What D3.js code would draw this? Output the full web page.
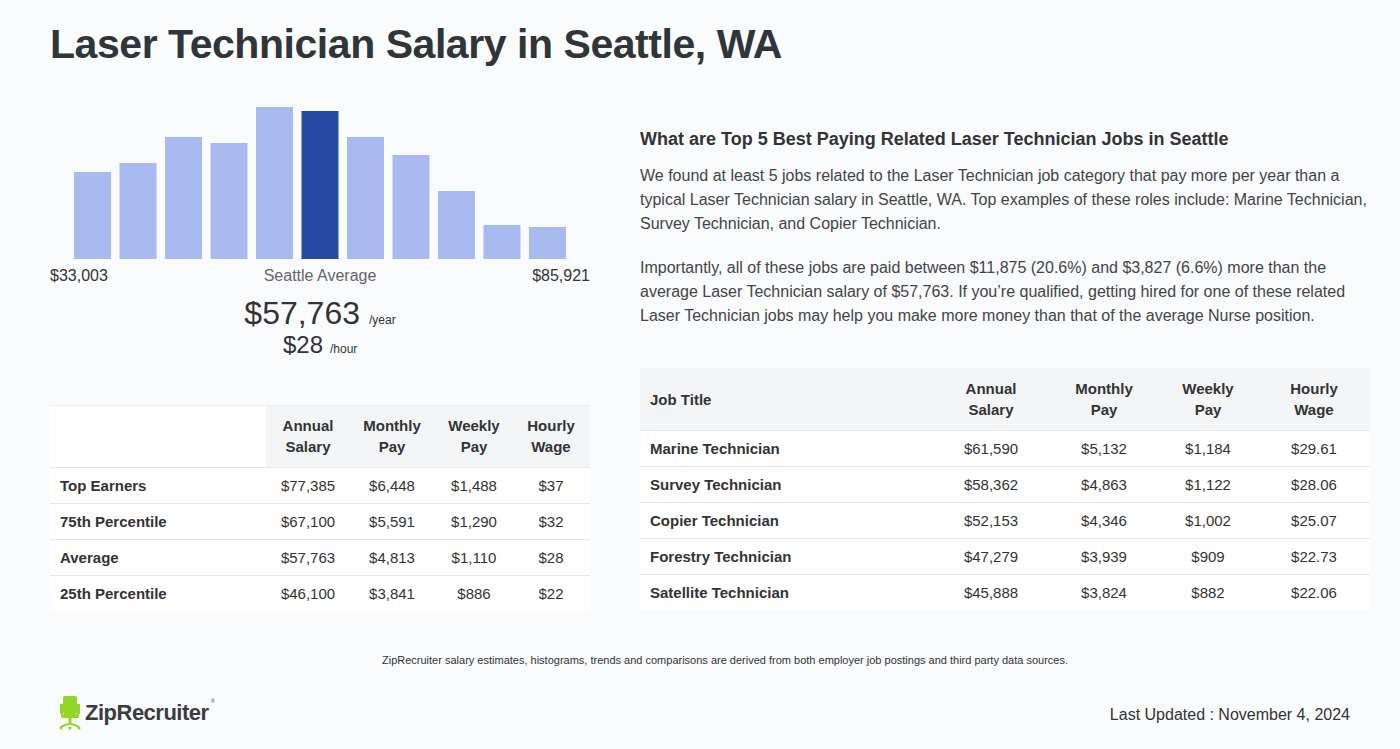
<!DOCTYPE html>
<html>
<head>
<meta charset="utf-8">
<script src="https://cdn.jsdelivr.net/npm/d3@7"></script>
<style>
  html, body { margin: 0; padding: 0; background: #fafbfd; }
  svg { display: block; font-family: "Liberation Sans", Arial, Helvetica, sans-serif; }
</style>
</head>
<body>
<svg id="chart" width="1400" height="749"></svg>
<script>
// ---------- DATA ----------
const title = "Laser Technician Salary in Seattle, WA";
const histBins = ["b1","b2","b3","b4","b5","b6","b7","b8","b9","b10","b11"];
const histValues = [87, 96, 122, 116, 152, 148, 122, 104, 68, 34, 32];
const highlightBin = "b6";
const minLabel = "$33,003";
const maxLabel = "$85,921";
const avgLabel = "Seattle Average";
const avgYear = "$57,763";
const avgHour = "$28";

const leftHeaders = [["Annual","Salary"],["Monthly","Pay"],["Weekly","Pay"],["Hourly","Wage"]];
const leftRows = ["Top Earners","75th Percentile","Average","25th Percentile"];
const leftAnnual = ["$77,385","$67,100","$57,763","$46,100"];
const leftMonthly = ["$6,448","$5,591","$4,813","$3,841"];
const leftWeekly = ["$1,488","$1,290","$1,110","$886"];
const leftHourly = ["$37","$32","$28","$22"];

const rightHeading = "What are Top 5 Best Paying Related Laser Technician Jobs in Seattle";
const para1 = [
  "We found at least 5 jobs related to the Laser Technician job category that pay more per year than a",
  "typical Laser Technician salary in Seattle, WA. Top examples of these roles include: Marine Technician,",
  "Survey Technician, and Copier Technician."
];
const para2 = [
  "Importantly, all of these jobs are paid between $11,875 (20.6%) and $3,827 (6.6%) more than the",
  "average Laser Technician salary of $57,763. If you\u2019re qualified, getting hired for one of these related",
  "Laser Technician jobs may help you make more money than that of the average Nurse position."
];
const jobTitles = ["Marine Technician","Survey Technician","Copier Technician","Forestry Technician","Satellite Technician"];
const jobAnnual = ["$61,590","$58,362","$52,153","$47,279","$45,888"];
const jobMonthly = ["$5,132","$4,863","$4,346","$3,939","$3,824"];
const jobWeekly = ["$1,184","$1,122","$1,002","$909","$882"];
const jobHourly = ["$29.61","$28.06","$25.07","$22.73","$22.06"];

const footnote = "ZipRecruiter salary estimates, histograms, trends and comparisons are derived from both employer job postings and third party data sources.";
const updated = "Last Updated : November 4, 2024";

// ---------- DRAW ----------
const svg = d3.select("#chart");
const dark = "#2f3538";

svg.append("rect").attr("width",1400).attr("height",749).attr("fill","#fafbfd");

svg.append("text").attr("x",50).attr("y",58)
  .attr("font-size",41).attr("font-weight","bold").attr("letter-spacing",-0.45).attr("fill",dark).text(title);

// Histogram
const x = d3.scaleBand().domain(histBins).range([69.75, 570.25]).paddingInner(0.187).paddingOuter(0.094);
const y = d3.scaleLinear().domain([0, 152]).range([259, 107]);
svg.append("g").selectAll("rect").data(histBins).join("rect")
  .attr("x", d => x(d)).attr("width", x.bandwidth())
  .attr("y", (d,i) => y(histValues[i])).attr("height", (d,i) => y(0) - y(histValues[i]))
  .attr("fill", d => d === highlightBin ? "#2749a3" : "#a9baf1");

svg.append("text").attr("x",50).attr("y",281).attr("font-size",16).attr("fill","#333").text(minLabel);
svg.append("text").attr("x",590).attr("y",281).attr("text-anchor","end").attr("font-size",16).attr("fill","#333").text(maxLabel);
svg.append("text").attr("x",320).attr("y",281).attr("text-anchor","middle").attr("font-size",16).attr("fill","#666").text(avgLabel);

svg.append("text").attr("x",360).attr("y",324).attr("text-anchor","end").attr("font-size",32).attr("fill","#333").text(avgYear);
svg.append("text").attr("x",369).attr("y",324).attr("font-size",12).attr("fill","#333").text("/year");
svg.append("text").attr("x",323).attr("y",353).attr("text-anchor","end").attr("font-size",24).attr("fill","#333").text(avgHour);
svg.append("text").attr("x",330).attr("y",353).attr("font-size",12).attr("fill","#333").text("/hour");

// Left table
(function(){
  const x0 = 50, x1 = 590, hTop = 405, hBot = 467, rowH = 36;
  const colX = [308, 392, 474, 551];
  const g = svg.append("g");
  g.append("rect").attr("x",x0).attr("y",hTop).attr("width",216).attr("height",hBot-hTop).attr("fill","#ffffff");
  g.append("rect").attr("x",266).attr("y",hTop).attr("width",x1-266).attr("height",hBot-hTop).attr("fill","#f4f5f7");
  g.append("line").attr("x1",x0).attr("x2",x1).attr("y1",hTop+0.5).attr("y2",hTop+0.5).attr("stroke","#eceef1");
  leftHeaders.forEach((h,i) => {
    h.forEach((t,j) => g.append("text").attr("x",colX[i]).attr("y",hTop+26+j*21)
      .attr("text-anchor","middle").attr("font-size",15).attr("font-weight","bold").attr("fill","#333").text(t));
  });
  const cols = [leftAnnual, leftMonthly, leftWeekly, leftHourly];
  leftRows.forEach((r,i) => {
    const ry = hBot + i*rowH;
    g.append("rect").attr("x",x0).attr("y",ry).attr("width",x1-x0).attr("height",rowH).attr("fill","#ffffff");
    g.append("line").attr("x1",x0).attr("x2",x1).attr("y1",ry+0.5).attr("y2",ry+0.5).attr("stroke","#e6e8eb");
    g.append("text").attr("x",60).attr("y",ry+23.5).attr("font-size",15).attr("font-weight","bold").attr("fill","#333").text(r);
    cols.forEach((c,k) => g.append("text").attr("x",colX[k]).attr("y",ry+23.5).attr("text-anchor","middle")
      .attr("font-size",15).attr("fill","#333").text(c[i]));
  });
})();

// Right text
svg.append("text").attr("x",640).attr("y",145).attr("font-size",18).attr("font-weight","bold").attr("fill","#333").text(rightHeading);
para1.forEach((l,i) => svg.append("text").attr("x",640).attr("y",181+i*24).attr("font-size",16).attr("fill","#444").text(l));
para2.forEach((l,i) => svg.append("text").attr("x",640).attr("y",273+i*24).attr("font-size",16).attr("fill","#444").text(l));

// Right table
(function(){
  const x0 = 640, x1 = 1370, hTop = 368, hBot = 430, rowH = 36;
  const colX = [991, 1104, 1208, 1314];
  const g = svg.append("g");
  g.append("rect").attr("x",x0).attr("y",hTop).attr("width",x1-x0).attr("height",hBot-hTop).attr("fill","#f4f5f7");
  g.append("text").attr("x",650).attr("y",hTop+37).attr("font-size",15).attr("font-weight","bold").attr("fill","#333").text("Job Title");
  leftHeaders.forEach((h,i) => {
    h.forEach((t,j) => g.append("text").attr("x",colX[i]).attr("y",hTop+26+j*21)
      .attr("text-anchor","middle").attr("font-size",15).attr("font-weight","bold").attr("fill","#333").text(t));
  });
  const cols = [jobAnnual, jobMonthly, jobWeekly, jobHourly];
  jobTitles.forEach((r,i) => {
    const ry = hBot + i*rowH;
    g.append("rect").attr("x",x0).attr("y",ry).attr("width",x1-x0).attr("height",rowH).attr("fill","#ffffff");
    g.append("line").attr("x1",x0).attr("x2",x1).attr("y1",ry+0.5).attr("y2",ry+0.5).attr("stroke","#e6e8eb");
    g.append("text").attr("x",650).attr("y",ry+23.5).attr("font-size",15).attr("font-weight","bold").attr("fill","#333").text(r);
    cols.forEach((c,k) => g.append("text").attr("x",colX[k]).attr("y",ry+23.5).attr("text-anchor","middle")
      .attr("font-size",15).attr("fill","#333").text(c[i]));
  });
})();

// Footer
svg.append("text").attr("x",725).attr("y",664).attr("text-anchor","middle").attr("font-size",11).attr("fill","#333").text(footnote);
svg.append("text").attr("x",1350).attr("y",720).attr("text-anchor","end").attr("font-size",16).attr("fill","#333").text(updated);

// Logo
(function(){
  const g = svg.append("g");
  const green = "#93d629";
  g.append("rect").attr("x",63).attr("y",696).attr("width",14).attr("height",18).attr("rx",2).attr("fill",green);
  g.append("rect").attr("x",60).attr("y",704).attr("width",3).attr("height",10).attr("fill",green);
  g.append("rect").attr("x",77).attr("y",704).attr("width",3).attr("height",10).attr("fill",green);
  g.append("rect").attr("x",61).attr("y",714).attr("width",18).attr("height",4).attr("rx",1).attr("fill",green);
  g.append("rect").attr("x",68.5).attr("y",718).attr("width",3).attr("height",7).attr("fill",green);
  g.append("path").attr("d","M61,727 Q70,721 79,727").attr("fill","none").attr("stroke",green).attr("stroke-width",2.2);
  g.append("circle").attr("cx",61).attr("cy",728).attr("r",1.5).attr("fill",green);
  g.append("circle").attr("cx",79).attr("cy",728).attr("r",1.5).attr("fill",green);
  g.append("circle").attr("cx",70).attr("cy",728).attr("r",1.5).attr("fill",green);
  g.append("text").attr("x",85).attr("y",720).attr("font-size",22).attr("font-weight","bold")
    .attr("letter-spacing",-0.5).attr("fill","#3a3d40").text("ZipRecruiter");
  g.append("text").attr("x",211).attr("y",703).attr("font-size",5).attr("fill","#3a3d40").text("\u00AE");
})();
</script>
</body>
</html>
